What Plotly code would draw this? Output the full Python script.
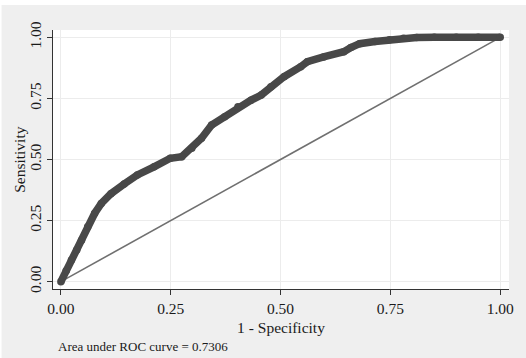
import plotly.graph_objects as go

# ROC curve points
fpr = [0.0, 0.012, 0.024, 0.036, 0.047, 0.061, 0.077, 0.092, 0.114, 0.144, 0.174, 0.212, 0.249,
       0.275, 0.298, 0.32, 0.343, 0.373, 0.403, 0.433, 0.456, 0.478, 0.508, 0.546, 0.561, 0.598,
       0.644, 0.66, 0.68, 0.715, 0.748, 0.78, 0.81, 0.85, 0.9, 0.95, 1.0]
tpr = [0.0, 0.045, 0.089, 0.13, 0.17, 0.225, 0.28, 0.32, 0.36, 0.40, 0.437, 0.47, 0.505,
       0.511, 0.546, 0.587, 0.641, 0.675, 0.716, 0.743, 0.764, 0.798, 0.839, 0.88, 0.90, 0.92,
       0.941, 0.958, 0.974, 0.983, 0.99, 0.996, 0.999, 1.0, 1.0, 1.0, 1.0]
diag = [0.0, 1.0]
ticks = [0.0, 0.25, 0.5, 0.75, 1.0]
tick_labels = ["0.00", "0.25", "0.50", "0.75", "1.00"]
auc_text = "Area under ROC curve = 0.7306"
x_title = "1 - Specificity"
y_title = "Sensitivity"

FONT = "Liberation Serif"
PW, PH = 461, 259  # plot area size in px

fig = go.Figure()
fig.add_trace(go.Scatter(x=diag, y=diag, mode="lines",
                         line=dict(color="#707070", width=1.6), hoverinfo="skip"))
fig.add_trace(go.Scatter(x=fpr, y=tpr, mode="lines+markers",
                         line=dict(color="#484848", width=7.5),
                         marker=dict(color="#484848", size=7.5)))

fig.update_layout(
    width=526, height=358,
    margin=dict(l=53, r=12, t=30, b=69),
    paper_bgcolor="#efefef",
    plot_bgcolor="#ffffff",
    showlegend=False,
    font=dict(family=FONT, color="#1a1a1a", size=15.5),
    shapes=[dict(type="rect", xref="paper", yref="paper",
                 x0=-0.2, x1=1.1, y0=1 + 25 / PH, y1=1.2,
                 fillcolor="#ffffff", line=dict(width=0), layer="below"),
            dict(type="rect", xref="paper", yref="paper",
                 x0=-53 / PW - 0.01, x1=-52 / PW, y0=-0.3, y1=1.2,
                 fillcolor="#ffffff", line=dict(width=0), layer="below")],
    annotations=[dict(text=auc_text, xref="paper", yref="paper",
                      x=(56 - 53) / PW, y=-(346 - 289) / PH,
                      xanchor="left", yanchor="middle", showarrow=False,
                      font=dict(family=FONT, size=13, color="#1a1a1a")),
                 dict(text=y_title, xref="paper", yref="paper", textangle=-90,
                      x=(19 - 53) / PW, y=0.5, xanchor="center", yanchor="middle",
                      showarrow=False, font=dict(family=FONT, size=15.5, color="#1a1a1a"))],
)
fig.update_xaxes(
    range=[-0.018, 1.020], tickvals=ticks, ticktext=tick_labels,
    showgrid=True, gridcolor="#ececec", gridwidth=1, zeroline=False,
    showline=True, linecolor="#333333", linewidth=1.2,
    ticks="outside", ticklen=5, tickcolor="#333333",
    title=dict(text=x_title, standoff=6, font=dict(size=15.5)),
)
fig.update_yaxes(
    range=[-0.030, 1.030], tickvals=ticks, ticktext=tick_labels, tickangle=-90,
    showgrid=True, gridcolor="#ececec", gridwidth=1, zeroline=False,
    showline=True, linecolor="#333333", linewidth=1.2,
    ticks="outside", ticklen=5, tickcolor="#333333",
)

fig.write_html("out.html", config={"displayModeBar": False},
               post_script="document.body.style.margin='0px';")
